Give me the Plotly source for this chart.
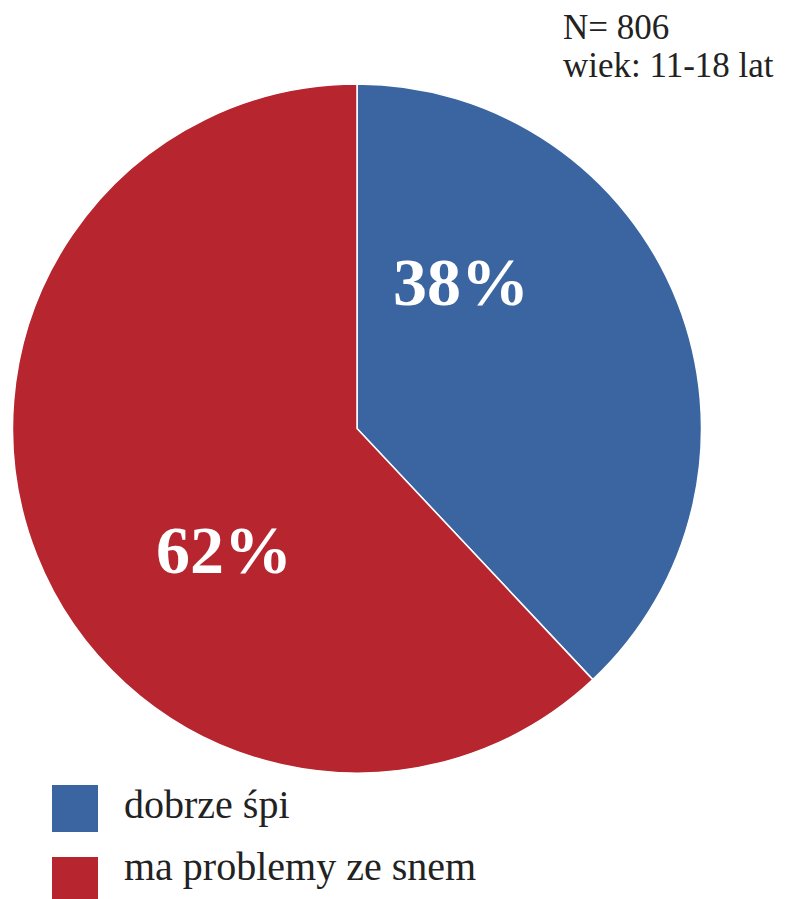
import plotly.graph_objects as go

labels = ["dobrze śpi", "ma problemy ze snem"]
values = [38, 62]
colors = ["#3A65A0", "#B7262F"]
pct_text = ["38%", "62%"]
note_lines = ["N= 806", "wiek: 11-18 lat"]

W, H = 789, 899
FONT = "Liberation Serif"
OFF = 8  # page body margin


def px(x):
    return (x - OFF) / W


def py(y):
    return 1 - (y - OFF) / H


fig = go.Figure()
fig.add_trace(go.Pie(
    labels=labels, values=values, sort=False, direction="clockwise", rotation=0,
    marker=dict(colors=colors, line=dict(color="white", width=1.5)),
    textinfo="none", hoverinfo="label+percent", showlegend=False,
    domain=dict(x=[px(12), px(702)], y=[py(773), py(84)]),
))

# percentage labels
pct_pos = [(461, 282), (224, 550)]
for t, (x, y) in zip(pct_text, pct_pos):
    fig.add_annotation(x=px(x), y=py(y), xref="paper", yref="paper",
                       text="<b>%s</b>" % t, showarrow=False,
                       font=dict(family=FONT, size=68, color="white"),
                       xanchor="center", yanchor="middle")

# note top right
note_y = [28, 66]
for t, y in zip(note_lines, note_y):
    fig.add_annotation(x=px(562), y=py(y), xref="paper", yref="paper",
                       text=t, showarrow=False, align="left", borderpad=0,
                       font=dict(family=FONT, size=35, color="#222222"),
                       xanchor="left", yanchor="middle")

# legend
sq_top = [785, 857]
txt_y = [804, 866]
for lab, col, t0, ty in zip(labels, colors, sq_top, txt_y):
    fig.add_shape(type="rect", xref="paper", yref="paper",
                  x0=px(52), x1=px(98), y0=py(t0 + 47), y1=py(t0),
                  fillcolor=col, line=dict(width=0))
    fig.add_annotation(x=px(122), y=py(ty), xref="paper", yref="paper",
                       text=lab, showarrow=False,
                       font=dict(family=FONT, size=40, color="#222222"),
                       xanchor="left", yanchor="middle")

fig.update_layout(width=W, height=H, margin=dict(l=0, r=0, t=0, b=0),
                  paper_bgcolor="white", plot_bgcolor="white")
fig.write_html("out.html")
